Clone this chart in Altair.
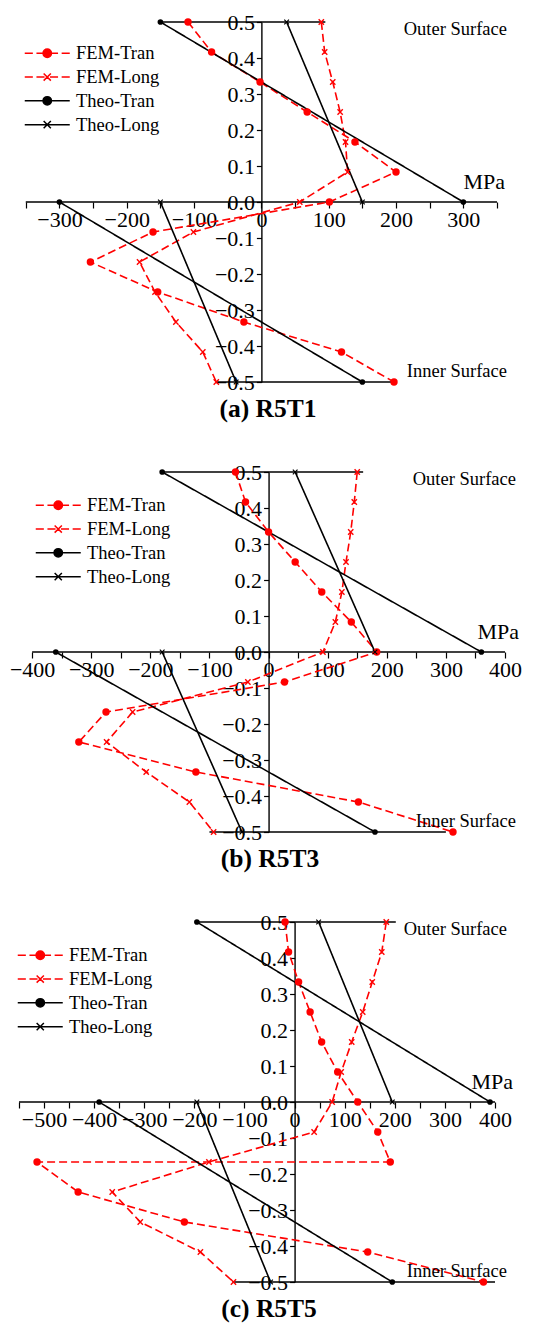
import altair as alt
import pandas as pd

SERIES = ["FEM-Tran", "FEM-Long", "Theo-Tran", "Theo-Long"]
RED = "#ff0000"
BLACK = "#000000"
FONT = "Liberation Serif"

# through-thickness positions (fraction of thickness)
Y_LEVELS = [0.5, 0.4167, 0.3333, 0.25, 0.1667, 0.0833, 0.0,
            -0.0833, -0.1667, -0.25, -0.3333, -0.4167, -0.5]
Y_LEVELS_C_TRAN = [0.5, 0.4167, 0.3333, 0.25, 0.1667, 0.0833, 0.0,
                   -0.0833, -0.1667, -0.1667, -0.25, -0.3333, -0.4167, -0.5]
THEO_Y = [0.5, 0.0, 0.0, -0.5]
THEO_SEG = ["upper", "upper", "lower", "lower"]

# (a) R5T1
A_FEM_TRAN = [-109, -74, -2, 68, 139, 200, 101, -161, -254, -154, -26, 119, 197]
A_FEM_LONG = [89, 94, 106, 117, 125, 128, 57, -101, -181, -158, -127, -87, -67]
A_THEO_TRAN = [-150, 300, -300, 150]
A_THEO_LONG = [37.5, 150, -150, -37.5]
A_TOP_RULE = [-150, 95]
A_BOTTOM_RULE = [-67, 200]
A_AXIS = [-350, 350]

# (b) R5T3
B_FEM_TRAN = [-56, -39, 0, 45, 90, 140, 183, 27, -275, -321, -123, 152, 312]
B_FEM_LONG = [150, 145, 139, 131, 124, 113, 92, -35, -230, -274, -207, -134, -93]
B_THEO_TRAN = [-180, 360, -360, 180]
B_THEO_LONG = [45, 180, -180, -45]
B_TOP_RULE = [-180, 160]
B_BOTTOM_RULE = [-100, 300]
B_AXIS = [-400, 400]

# (c) R5T5
C_FEM_TRAN = [-19, -12, 8, 31, 54, 86, 126, 166, 191, -514, -432, -220, 146, 377]
C_FEM_LONG = [183, 174, 155, 136, 114, 93, 75, 39, -171, -364, -308, -188, -122]
C_THEO_TRAN = [-195, 390, -390, 195]
C_THEO_LONG = [48, 195, -195, -48]
C_TOP_RULE = [-195, 202]
C_BOTTOM_RULE = [-124, 400]
C_AXIS = [-550, 400]

H = 360

COLOR_SCALE = alt.Scale(domain=SERIES, range=[RED, RED, BLACK, BLACK])
DASH_SCALE = alt.Scale(domain=SERIES, range=[[8, 4], [8, 4], [1, 0], [1, 0]])

X_PATH = "M-1,-1L1,1M-1,1L1,-1"
LEG_CIRCLE = "M1.4,0A1.4,1.4,0,1,1,-1.4,0A1.4,1.4,0,1,1,1.4,0Z"
LEG_X = "M-1.2,-1.2L1.2,1.2M-1.2,1.2L1.2,-1.2"
LEG_DASH = "M-7.5,0H-4.8M-3.6,0H-0.9M0.9,0H3.6M4.8,0H7.5"
LEG_SOLID = "M-7.5,0H7.5"
LEG_SHAPES = [LEG_DASH + LEG_CIRCLE, LEG_DASH + LEG_X,
              LEG_SOLID + LEG_CIRCLE, LEG_SOLID + LEG_X]


def long_frame(fem_tran, fem_long, theo_tran, theo_long, tran_y):
    rows = []
    for i, (v, y) in enumerate(zip(fem_tran, tran_y)):
        rows.append(dict(x=v, y=y, series="FEM-Tran", seg="FEM-Tran", idx=i))
    for i, (v, y) in enumerate(zip(fem_long, Y_LEVELS)):
        rows.append(dict(x=v, y=y, series="FEM-Long", seg="FEM-Long", idx=i))
    for i, (v, y, s) in enumerate(zip(theo_tran, THEO_Y, THEO_SEG)):
        rows.append(dict(x=v, y=y, series="Theo-Tran", seg="Theo-Tran-" + s, idx=i))
    for i, (v, y, s) in enumerate(zip(theo_long, THEO_Y, THEO_SEG)):
        rows.append(dict(x=v, y=y, series="Theo-Long", seg="Theo-Long-" + s, idx=i))
    return pd.DataFrame(rows)


def text_layer(label, px, py, size, align="right"):
    return alt.Chart(pd.DataFrame({"t": [label]})).mark_text(
        font=FONT, fontSize=size, color=BLACK, align=align, baseline="middle"
    ).encode(x=alt.value(px), y=alt.value(py), text="t:N")


def panel(caption, fem_tran, fem_long, theo_tran, theo_long, tran_y,
          axis_ext, xmin, width, top_rule, bottom_rule, leg_x, leg_y,
          surf_dx, mpa_dx, cap_dx):
    W = width
    xmax = axis_ext[1]
    df = long_frame(fem_tran, fem_long, theo_tran, theo_long, tran_y)
    x0 = W * (0 - xmin) / (xmax - xmin)
    xticks = list(range(axis_ext[0], axis_ext[1] + 1, 50))
    yticks = [round(-0.5 + 0.1 * i, 1) for i in range(11)]
    xscale = alt.Scale(domain=[xmin, xmax], nice=False, zero=False)
    yscale = alt.Scale(domain=[-0.5, 0.5], nice=False, zero=False)
    xaxis = alt.Axis(values=xticks, title=None, grid=False, offset=-H / 2,
                     domain=False,
                     labelExpr="datum.value % 100 == 0 ? datum.label : ''",
                     labelFont=FONT, labelFontSize=22, labelColor=BLACK,
                     labelOverlap=False, labelFlush=False, labelPadding=1,
                     tickColor=BLACK, tickSize=6, tickWidth=1.2)
    yaxis = alt.Axis(values=yticks, format=".1f", title=None, grid=False,
                     offset=-x0, labelFont=FONT, labelFontSize=22,
                     labelColor=BLACK, labelOverlap=False, labelFlush=False,
                     labelPadding=2, domainColor=BLACK, domainWidth=1.4,
                     tickColor=BLACK, tickSize=5, tickWidth=1.2)

    base = alt.Chart(df)
    lines = base.mark_line(strokeWidth=1.6).encode(
        color=alt.Color("series:N", scale=COLOR_SCALE, legend=None),
        strokeDash=alt.StrokeDash("series:N", scale=DASH_SCALE, legend=None),
        detail="seg:N",
        order="idx:Q",
    )
    col = alt.Color("series:N", scale=COLOR_SCALE, legend=None)
    fem_dots = base.transform_filter(alt.datum.series == "FEM-Tran").mark_point(
        shape="circle", filled=True, size=55, opacity=1).encode(color=col)
    theo_dots = base.transform_filter(alt.datum.series == "Theo-Tran").mark_point(
        shape="circle", filled=True, size=32, opacity=1).encode(color=col)
    fem_x = base.transform_filter(alt.datum.series == "FEM-Long").mark_point(
        shape=X_PATH, filled=False, size=28, strokeWidth=1.4, opacity=1).encode(color=col)
    theo_x = base.transform_filter(alt.datum.series == "Theo-Long").mark_point(
        shape=X_PATH, filled=False, size=22, strokeWidth=1.2, opacity=1).encode(color=col)

    rules = alt.Chart(pd.DataFrame({
        "x": [top_rule[0], bottom_rule[0]],
        "x2": [top_rule[1], bottom_rule[1]],
        "y": [0.5, -0.5],
    })).mark_rule(color=BLACK, strokeWidth=1.4).encode(x2="x2:Q")
    # x-axis line along y = 0, spanning the tick range
    axis_line = alt.Chart(pd.DataFrame({
        "x": [axis_ext[0]], "x2": [axis_ext[1]], "y": [0.0],
    })).mark_rule(color=BLACK, strokeWidth=1.6).encode(x2="x2:Q")

    legend = alt.Legend(
        title=None, orient="none", legendX=leg_x, legendY=leg_y, padding=0,
        symbolSize=36, symbolStrokeWidth=1.5, labelFont=FONT,
        labelFontSize=18.5, labelColor=BLACK, labelOffset=19.5,
        labelBaseline="middle", rowPadding=4.8, symbolOpacity=1,
    )
    leg_range = alt.Scale(domain=SERIES, range=[RED, RED, BLACK, BLACK])
    legend_layer = alt.Chart(pd.DataFrame({"series": SERIES})).transform_filter(
        "false"
    ).mark_point(opacity=1, filled=True).encode(
        shape=alt.Shape("series:N", scale=alt.Scale(domain=SERIES, range=LEG_SHAPES),
                        legend=legend),
        fill=alt.Fill("series:N", scale=leg_range, legend=legend),
        stroke=alt.Stroke("series:N", scale=leg_range, legend=legend),
    )

    texts = (text_layer("Outer Surface", W + surf_dx, 7, 18.5)
             + text_layer("Inner Surface", W + surf_dx, 349, 18.5)
             + text_layer("MPa", W + mpa_dx, 160, 22))

    return alt.layer(axis_line, rules, lines, fem_dots, fem_x, theo_dots, theo_x,
                     texts, legend_layer).encode(
        x=alt.X("x:Q", scale=xscale, axis=xaxis),
        y=alt.Y("y:Q", scale=yscale, axis=yaxis),
    ).properties(
        width=W, height=H,
        title=alt.TitleParams(caption, orient="bottom", anchor="middle",
                              font=FONT, fontSize=25.5, fontWeight="bold",
                              color=BLACK, offset=4, dx=cap_dx),
    )


pa = panel("(a) R5T1", A_FEM_TRAN, A_FEM_LONG, A_THEO_TRAN, A_THEO_LONG,
           Y_LEVELS, A_AXIS, -366, 482, A_TOP_RULE, A_BOTTOM_RULE,
           23, 22, 10, 8, 12)
pb = panel("(b) R5T3", B_FEM_TRAN, B_FEM_LONG, B_THEO_TRAN, B_THEO_LONG,
           Y_LEVELS, B_AXIS, -429, 490, B_TOP_RULE, B_BOTTOM_RULE,
           34, 24, 11, 14, 10)
pc = panel("(c) R5T5", C_FEM_TRAN, C_FEM_LONG, C_THEO_TRAN, C_THEO_LONG,
           Y_LEVELS_C_TRAN, C_AXIS, -558, 480, C_TOP_RULE, C_BOTTOM_RULE,
           16, 24, 12, 18, 14)

chart = alt.vconcat(pa, pb, pc, spacing=38).resolve_scale(
    shape="independent", fill="independent", stroke="independent"
).resolve_legend(
    shape="independent", fill="independent", stroke="independent"
).configure_view(stroke=None).configure_axis(labelOverlap=False).properties(
    padding={"left": 1, "right": 1, "top": 3, "bottom": 2}, background="white")

chart.save("out.html", embed_options={"renderer": "svg", "actions": False})
